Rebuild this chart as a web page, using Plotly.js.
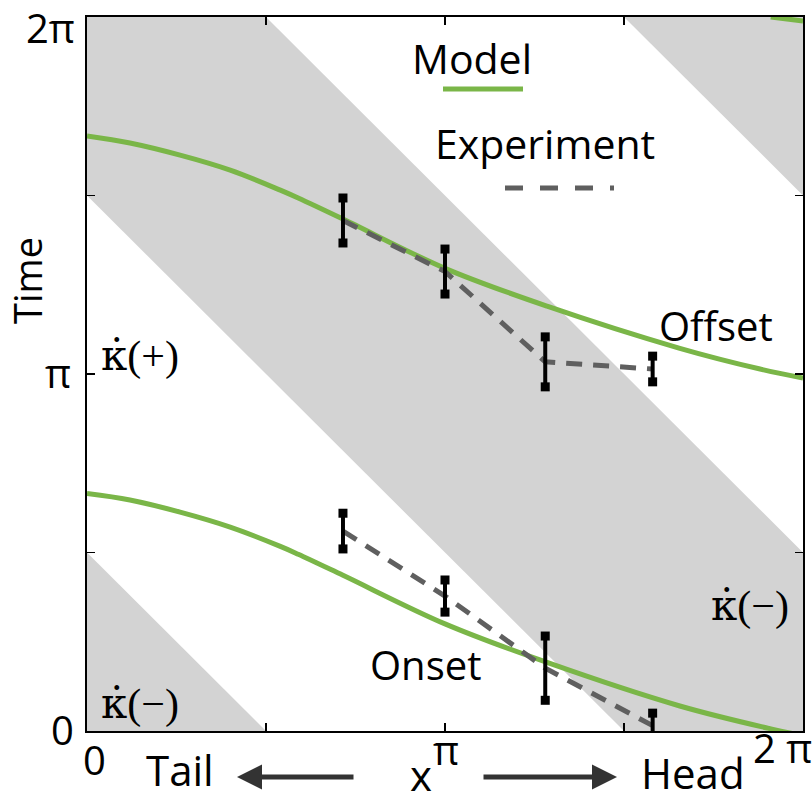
<!DOCTYPE html>
<html>
<head>
<meta charset="utf-8">
<script src="https://cdn.plot.ly/plotly-3.0.1.min.js"></script>
<style>html,body{margin:0;padding:0;background:#fff;}#chart{width:812px;height:802px;}</style>
</head>
<body>
<div id="chart"></div>
<script>
// ---- data (x and time in units of pi) ----
var bandLo = [-0.5, 1.5, 3.5];        // grey bands: lo <= x + t <= hi
var bandHi = [0.5, 2.5, 4.5];

var modelOffsetX = [0, 0.12, 0.26, 0.40, 0.54, 0.59, 0.715, 1.0, 1.285, 1.656, 1.88, 2.0];
var modelOffsetT = [1.667, 1.647, 1.613, 1.571, 1.515, 1.493, 1.434, 1.296, 1.190, 1.072, 1.014, 0.989];
var modelOnsetX  = [0, 0.12, 0.26, 0.40, 0.54, 0.59, 0.715, 1.0, 1.285, 1.656, 1.91, 2.0];
var modelOnsetT  = [0.665, 0.647, 0.613, 0.571, 0.517, 0.495, 0.436, 0.300, 0.192, 0.070, 0.006, -0.013];
var modelWrapX   = [1.91, 2.0];
var modelWrapT   = [2.0, 1.989];

var expX         = [0.715, 1.0, 1.28, 1.58];
var expOffsetT   = [1.430, 1.287, 1.034, 1.014];
var expOffsetErr = [0.063, 0.063, 0.070, 0.036];
var expOnsetT    = [0.560, 0.378, 0.176, 0.015];
var expOnsetErr  = [0.050, 0.045, 0.090, 0.035];

var xTickVals = [0, 0.5, 1, 1.5, 2];
var yTickVals = [0, 0.5, 1, 1.5, 2];
var xLabelVals = [0, 1, 2];
var xLabelText = ['0', 'π', '2 π'];
var yLabelVals = [0, 1, 2];
var yLabelText = ['0', 'π', '2π'];

// ---- build ----
var PI = Math.PI;
function s(a){ return a.map(function(v){ return v*PI; }); }

var GREEN = '#7ab648', GREY = '#d3d3d3', DASH = '#5f5f5f';
var traces = [];

for (var i = 0; i < bandLo.length; i++) {
  var x0 = -1, x1 = 3;
  traces.push({
    type:'scatter', mode:'lines', fill:'toself', fillcolor:GREY,
    line:{width:0, color:GREY}, hoverinfo:'skip', showlegend:false,
    x: s([x0, x1, x1, x0, x0]),
    y: s([bandLo[i]-x0, bandLo[i]-x1, bandHi[i]-x1, bandHi[i]-x0, bandLo[i]-x0])
  });
}

[[modelOffsetX, modelOffsetT], [modelOnsetX, modelOnsetT], [modelWrapX, modelWrapT]].forEach(function(c){
  traces.push({type:'scatter', mode:'lines', x:s(c[0]), y:s(c[1]),
    line:{color:GREEN, width:5, shape:'spline', smoothing:1}, showlegend:false});
});

[expOffsetT, expOnsetT].forEach(function(t){
  traces.push({type:'scatter', mode:'lines', x:s(expX), y:s(t),
    line:{color:DASH, width:5, dash:'16px,11px'}, showlegend:false});
});

[[expOffsetT, expOffsetErr], [expOnsetT, expOnsetErr]].forEach(function(c){
  traces.push({type:'scatter', mode:'markers', x:s(expX), y:s(c[0]),
    marker:{size:1, color:'rgba(0,0,0,0)'},
    error_y:{type:'data', array:s(c[1]), visible:true, color:'#000', thickness:4, width:0},
    showlegend:false});
  var cx = [], cy = [];
  for (var k = 0; k < expX.length; k++) {
    cx.push(expX[k], expX[k]);
    cy.push(c[0][k] + c[1][k], c[0][k] - c[1][k]);
  }
  traces.push({type:'scatter', mode:'markers', x:s(cx), y:s(cy),
    marker:{symbol:'square', size:9, color:'#000'}, showlegend:false, cliponaxis:false});
});

// pixel -> paper helpers (plot area 87..803 x 17..731)
function px(v){ return (v-87)/716; }
function py(v){ return (731-v)/714; }
var SANS = 'Open Sans', SERIF = 'Liberation Serif';
function ann(text, x, y, size, fam, extra){
  var a = {text:text, xref:'paper', yref:'paper', x:px(x), y:py(y), showarrow:false,
    xanchor:'center', yanchor:'middle', font:{family:fam, size:size, color:'#000'}};
  if (extra) for (var k in extra) a[k] = extra[k];
  return a;
}
var KAPPA = '<span style="font-family:DejaVu Serif">κ̇</span>';
var annotations = [
  ann('Model', 472, 58, 41, SANS),
  ann('Experiment', 545, 143, 41, SANS),
  ann('Offset', 716, 325, 40, SANS),
  ann('Onset', 425, 664, 40, SANS),
  ann(KAPPA + '(+)', 140, 355, 42, SERIF),
  ann(KAPPA + '(−)', 140, 703, 42, SERIF),
  ann(KAPPA + '(−)', 750, 605, 42, SERIF),
  ann('Time', 27, 281, 38, SANS, {textangle:-90}),
  ann('x', 421, 774, 42, SANS),
  ann('Tail', 180, 769, 42, SANS),
  ann('Head', 693, 772, 42, SANS),
  {text:'', xref:'paper', yref:'paper', x:px(237), y:py(777), ax:px(355), ay:py(777),
   axref:'paper', ayref:'paper', showarrow:true, arrowhead:2, arrowsize:1, arrowwidth:5, arrowcolor:'#333'},
  {text:'', xref:'paper', yref:'paper', x:px(617), y:py(777), ax:px(482), ay:py(777),
   axref:'paper', ayref:'paper', showarrow:true, arrowhead:2, arrowsize:1, arrowwidth:5, arrowcolor:'#333'}
];
var xLabPos = [[94, 759], [446, 750], [782, 748]];
xLabelVals.forEach(function(v, i){
  annotations.push({text:xLabelText[i], xref:'x', yref:'paper', x:v*PI, y:py(xLabPos[i][1]),
    xshift: xLabPos[i][0] - (87 + v*358), showarrow:false, xanchor:'center', yanchor:'middle',
    font:{family:SANS, size:40, color:'#000'}});
});
var yLabPos = [[62, 729], [58, 372], [50, 27]];
yLabelVals.forEach(function(v, i){
  annotations.push({text:yLabelText[i], xref:'paper', yref:'y', x:px(yLabPos[i][0]), y:v*PI,
    yshift: (731 - v*357) - yLabPos[i][1], showarrow:false, xanchor:'center', yanchor:'middle',
    font:{family:SANS, size:40, color:'#000'}});
});

var shapes = [
  {type:'line', xref:'paper', yref:'paper', x0:px(443), x1:px(523), y0:py(89), y1:py(89),
   line:{color:GREEN, width:5}},
  {type:'line', xref:'paper', yref:'paper', x0:px(505), x1:px(614), y0:py(188), y1:py(188),
   line:{color:DASH, width:5, dash:'18px,17px'}}
];

var axisCommon = {range:[0, 2*PI], showgrid:false, zeroline:false, showline:true, linecolor:'#000',
  linewidth:2, mirror:'ticks', ticks:'inside', ticklen:8, tickwidth:1.5, tickcolor:'#000',
  showticklabels:false, fixedrange:true};
var layout = {
  width:812, height:802, margin:{l:87, r:9, t:17, b:71},
  paper_bgcolor:'#fff', plot_bgcolor:'#fff', showlegend:false,
  xaxis: Object.assign({}, axisCommon, {tickvals:s(xTickVals)}),
  yaxis: Object.assign({}, axisCommon, {tickvals:s(yTickVals)}),
  annotations: annotations, shapes: shapes
};
Plotly.newPlot('chart', traces, layout, {displayModeBar:false, staticPlot:true});
</script>
</body>
</html>
